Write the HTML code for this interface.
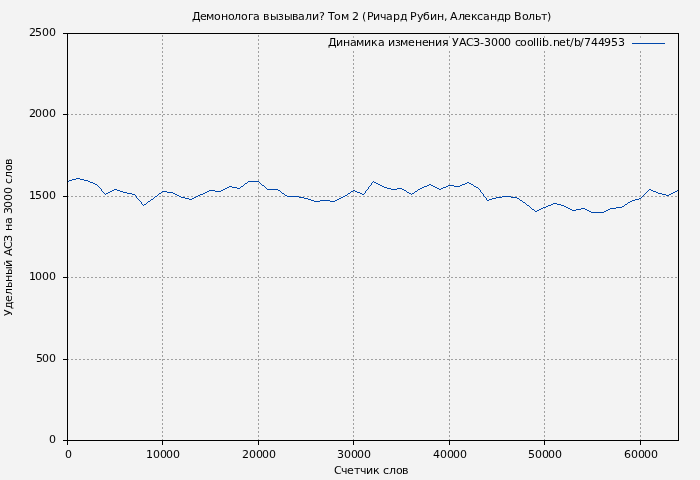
<!DOCTYPE html>
<html lang="ru">
<head>
<meta charset="utf-8">
<title>Демонолога вызывали? Том 2 (Ричард Рубин, Александр Вольт)</title>
<style>
html,body{margin:0;padding:0;background:#f3f3f3;}
body{width:700px;height:480px;overflow:hidden;}
svg{display:block;}
text{font-family:"DejaVu Sans","Liberation Sans",sans-serif;font-size:11px;fill:#000;white-space:pre;}
</style>
</head>
<body>
<svg width="700" height="480" viewBox="0 0 700 480">
<rect x="0" y="0" width="700" height="480" fill="#f3f3f3"/>
<g stroke="#a0a0a0" stroke-width="1" stroke-dasharray="2 2" shape-rendering="crispEdges" fill="none">
<line x1="162.5" y1="441" x2="162.5" y2="33"/>
<line x1="258.5" y1="441" x2="258.5" y2="33"/>
<line x1="353.5" y1="441" x2="353.5" y2="33"/>
<line x1="449.5" y1="441" x2="449.5" y2="33"/>
<line x1="544.5" y1="441" x2="544.5" y2="33"/>
<line x1="640.5" y1="441" x2="640.5" y2="33"/>
<line x1="67" y1="359.5" x2="679" y2="359.5"/>
<line x1="67" y1="277.5" x2="679" y2="277.5"/>
<line x1="67" y1="196.5" x2="679" y2="196.5"/>
<line x1="67" y1="114.5" x2="679" y2="114.5"/>
</g>
<rect x="322" y="34" width="352" height="17" fill="#f3f3f3"/>
<g fill="#a0a0a0">
<rect x="353" y="36.25" width="1" height="1.5"/>
<rect x="449" y="36.25" width="1" height="1.5"/>
<rect x="544" y="36.25" width="1" height="1.5"/>
<rect x="640" y="36.25" width="1" height="1.5"/>
</g>
<path d="M76 178.5h4M72 179.5h4M80 179.5h4M69 180.5h3M84 180.5h4M67 181.5h2M88 181.5h2M248 181.5h11M373 181.5h1M90 182.5h3M247 182.5h1M259 182.5h1M372 182.5h1M374 182.5h2M467 182.5h2M93 183.5h2M245 183.5h2M260 183.5h1M371 183.5h1M376 183.5h2M465 183.5h2M469 183.5h2M95 184.5h2M244 184.5h1M261 184.5h1M371 184.5h1M378 184.5h2M429 184.5h2M462 184.5h3M471 184.5h2M97 185.5h1M243 185.5h1M262 185.5h2M370 185.5h1M380 185.5h2M427 185.5h2M431 185.5h2M448 185.5h6M460 185.5h2M473 185.5h1M98 186.5h1M229 186.5h3M241 186.5h2M264 186.5h1M369 186.5h1M382 186.5h2M424 186.5h3M433 186.5h2M446 186.5h2M454 186.5h6M474 186.5h2M99 187.5h1M227 187.5h2M232 187.5h5M240 187.5h1M265 187.5h1M368 187.5h1M384 187.5h3M422 187.5h2M435 187.5h2M443 187.5h3M476 187.5h2M100 188.5h1M225 188.5h2M237 188.5h3M266 188.5h1M368 188.5h1M387 188.5h4M397 188.5h5M420 188.5h2M437 188.5h2M441 188.5h2M478 188.5h1M101 189.5h1M114 189.5h3M223 189.5h2M267 189.5h11M367 189.5h1M391 189.5h6M402 189.5h2M418 189.5h2M439 189.5h2M479 189.5h1M649 189.5h2M101 190.5h1M112 190.5h2M117 190.5h3M209 190.5h6M221 190.5h2M278 190.5h2M353 190.5h2M366 190.5h1M404 190.5h2M417 190.5h1M480 190.5h1M648 190.5h1M651 190.5h2M677 190.5h2M102 191.5h1M110 191.5h2M120 191.5h3M162 191.5h5M207 191.5h2M215 191.5h6M280 191.5h1M351 191.5h2M355 191.5h2M365 191.5h1M406 191.5h1M415 191.5h2M480 191.5h1M647 191.5h1M653 191.5h3M675 191.5h2M103 192.5h1M108 192.5h2M123 192.5h4M161 192.5h1M167 192.5h6M205 192.5h2M281 192.5h1M350 192.5h1M357 192.5h3M365 192.5h1M407 192.5h2M414 192.5h1M481 192.5h1M646 192.5h1M656 192.5h2M673 192.5h2M104 193.5h1M106 193.5h2M127 193.5h5M159 193.5h2M173 193.5h2M203 193.5h2M282 193.5h2M348 193.5h2M360 193.5h2M364 193.5h1M409 193.5h2M412 193.5h2M482 193.5h1M645 193.5h1M658 193.5h4M671 193.5h2M105 194.5h1M132 194.5h3M158 194.5h1M175 194.5h2M200 194.5h3M284 194.5h1M347 194.5h1M362 194.5h2M411 194.5h1M483 194.5h1M644 194.5h1M662 194.5h4M669 194.5h2M135 195.5h1M157 195.5h1M177 195.5h2M198 195.5h2M285 195.5h2M345 195.5h2M483 195.5h1M643 195.5h1M666 195.5h3M136 196.5h1M155 196.5h2M179 196.5h2M196 196.5h2M287 196.5h12M343 196.5h2M484 196.5h1M502 196.5h9M642 196.5h1M136 197.5h1M154 197.5h1M181 197.5h4M194 197.5h2M299 197.5h5M341 197.5h2M485 197.5h1M496 197.5h6M511 197.5h6M641 197.5h1M137 198.5h1M153 198.5h1M185 198.5h4M192 198.5h2M304 198.5h4M339 198.5h2M486 198.5h1M492 198.5h4M517 198.5h2M639 198.5h2M138 199.5h1M151 199.5h2M189 199.5h3M308 199.5h3M337 199.5h2M486 199.5h1M489 199.5h3M519 199.5h1M635 199.5h4M139 200.5h1M150 200.5h1M311 200.5h3M320 200.5h10M335 200.5h2M487 200.5h2M520 200.5h2M632 200.5h3M140 201.5h1M148 201.5h2M314 201.5h6M330 201.5h5M522 201.5h1M630 201.5h2M141 202.5h1M147 202.5h1M523 202.5h2M628 202.5h2M141 203.5h1M146 203.5h1M525 203.5h1M553 203.5h4M627 203.5h1M142 204.5h1M144 204.5h2M526 204.5h1M551 204.5h2M557 204.5h4M625 204.5h2M143 205.5h1M527 205.5h2M548 205.5h3M561 205.5h3M624 205.5h1M529 206.5h1M546 206.5h2M564 206.5h2M622 206.5h2M530 207.5h1M543 207.5h3M566 207.5h2M616 207.5h6M531 208.5h1M541 208.5h2M568 208.5h2M581 208.5h4M610 208.5h6M532 209.5h2M539 209.5h2M570 209.5h2M576 209.5h5M585 209.5h2M608 209.5h2M534 210.5h1M537 210.5h2M572 210.5h4M587 210.5h2M606 210.5h2M535 211.5h2M589 211.5h2M604 211.5h2M591 212.5h13" fill="none" stroke="#0047ab" stroke-width="1" shape-rendering="crispEdges"/>
<path d="M632 43.5h33" fill="none" stroke="#0047ab" stroke-width="1" shape-rendering="crispEdges"/>
<g stroke="#000" stroke-width="1" shape-rendering="crispEdges" fill="none">
<rect x="67.5" y="33.5" width="611" height="407"/>
<line x1="67.5" y1="440" x2="67.5" y2="445"/>
<line x1="162.5" y1="440" x2="162.5" y2="445"/>
<line x1="258.5" y1="440" x2="258.5" y2="445"/>
<line x1="353.5" y1="440" x2="353.5" y2="445"/>
<line x1="449.5" y1="440" x2="449.5" y2="445"/>
<line x1="544.5" y1="440" x2="544.5" y2="445"/>
<line x1="640.5" y1="440" x2="640.5" y2="445"/>
<line x1="63" y1="440.5" x2="67" y2="440.5"/>
<line x1="63" y1="359.5" x2="67" y2="359.5"/>
<line x1="63" y1="277.5" x2="67" y2="277.5"/>
<line x1="63" y1="196.5" x2="67" y2="196.5"/>
<line x1="63" y1="114.5" x2="67" y2="114.5"/>
<line x1="63" y1="33.5" x2="67" y2="33.5"/>
</g>
<g style="filter:grayscale(1)">
<text x="192 200 206 214 221 228 234 241 248 253 260 263 270 278 284 292 298 305 312 319 324 328 334 341 349 352 359 362 367 373 380 386 393 400 407 410 417 423 430 437 444 447 450 458 464 471 477 483 490 497 504 511 514 522 528 535 541 547" y="20">Демонолога вызывали? Том 2 (Ричард Рубин, Александр Вольт)</text>
<text x="328 336 343 350 356 364 371 378 384 388 395 400 408 415 422 428 435 442 449 452 459 466 473 480 484 491 498 504 511 515 520 527 533 536 539 542 549 553 559 566 570 574 580 584 591 598 604 611 618" y="46">Динамика изменения УАСЗ-3000 coollib.net/b/744953</text>
<text x="334 341 347 354 360 366 373 380 383 389 396 402" y="474">Счетчик слов</text>
<text transform="translate(12,316) rotate(-90)" x="0 7 14 21 28 34 41 49 56 60 67 74 81 85 92 98 102 108 115 122 129 132 138 145 151" y="0">Удельный АСЗ на 3000 слов</text>
<text x="65" y="458">0</text>
<text x="146 153 160 166 173" y="458">10000</text>
<text x="242 249 256 262 269" y="458">20000</text>
<text x="337 344 351 357 364" y="458">30000</text>
<text x="433 440 447 453 460" y="458">40000</text>
<text x="528 535 542 548 555" y="458">50000</text>
<text x="624 631 638 644 651" y="458">60000</text>
<text x="49" y="443">0</text>
<text x="36 42 49" y="362">500</text>
<text x="29 35 42 49" y="280">1000</text>
<text x="29 35 42 49" y="199">1500</text>
<text x="29 35 42 49" y="117">2000</text>
<text x="29 35 42 49" y="36">2500</text>
</g>
</svg>
</body>
</html>
